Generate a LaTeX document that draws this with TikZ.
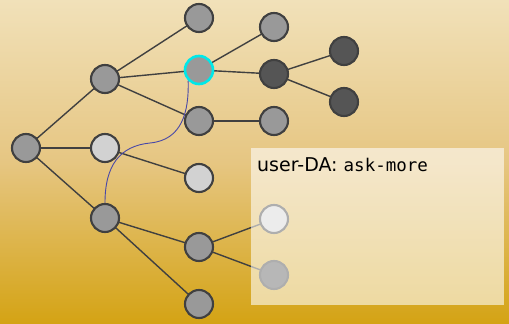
\documentclass[tikz,border=0pt]{standalone}
\usepackage{fontspec}
\setmainfont{DejaVu Sans}
\newfontfamily\monof{DejaVu Sans Mono}
\definecolor{bgtop}{HTML}{F1E1B9}
\definecolor{bgmid}{HTML}{E6C682}
\definecolor{bgbot}{HTML}{D4A314}
\definecolor{edgec}{HTML}{404040}
\definecolor{midg}{HTML}{999999}
\definecolor{lightg}{HTML}{D2D2D2}
\definecolor{darkg}{HTML}{555555}
\definecolor{curvec}{HTML}{4848A8}
\definecolor{selc}{HTML}{00E8E8}
\begin{document}
\begin{tikzpicture}[x=1pt,y=-1pt,
  nd/.style={circle,draw=edgec,line width=2.1pt,minimum size=28pt,inner sep=0pt},
  mid/.style={nd,fill=midg},
  lite/.style={nd,fill=lightg},
  dark/.style={nd,fill=darkg},
  sel/.style={nd,fill=midg,draw=selc,line width=2.6pt},
  edge/.style={draw=edgec,line width=1.4pt}]
\useasboundingbox (0,0) rectangle (509,324);
\shade[top color=bgtop,bottom color=bgbot,middle color=bgmid] (0,0) rectangle (509,324);
% node positions
\coordinate (r) at (26,148);
\coordinate (a1) at (105,79);
\coordinate (a2) at (105,148);
\coordinate (a3) at (105,218);
\coordinate (b1) at (199,18);
\coordinate (b2) at (199,70);
\coordinate (b3) at (199,121);
\coordinate (b4) at (199,178);
\coordinate (b5) at (199,247);
\coordinate (b6) at (199,304);
\coordinate (c1) at (274,27);
\coordinate (c2) at (274,74);
\coordinate (c3) at (274,121);
\coordinate (d1) at (344,51);
\coordinate (d2) at (344,102);
\coordinate (p1) at (274,219);
\coordinate (p2) at (274,275);
% edges
\foreach \u/\v in {r/a1,r/a2,r/a3,a1/b1,a1/b2,a1/b3,a2/b4,a3/b5,a3/b6,b2/c1,b2/c2,b3/c3,c2/d1,c2/d2,b5/p1,b5/p2}
  \draw[edge] (\u) -- (\v);
% nodes
\node[mid] (nr) at (r) {};
\node[mid] (na1) at (a1) {};
\node[lite] (na2) at (a2) {};
\node[mid] (na3) at (a3) {};
\node[mid] (nb1) at (b1) {};
\node[sel] (nb2) at (b2) {};
\node[mid] (nb3) at (b3) {};
\node[lite] (nb4) at (b4) {};
\node[mid] (nb5) at (b5) {};
\node[mid] (nb6) at (b6) {};
\node[mid] (nc1) at (c1) {};
\node[dark] (nc2) at (c2) {};
\node[mid] (nc3) at (c3) {};
\node[dark] (nd1) at (d1) {};
\node[dark] (nd2) at (d2) {};
\node[lite] (np1) at (p1) {};
\node[dark] (np2) at (p2) {};
% blue curve
\draw[curvec,line width=0.9pt] (na3.north) .. controls (105,165) and (120,146) .. (150,143) .. controls (182,140) and (189,112) .. (nb2.south west);
% panel
\node[fill=white,fill opacity=0.58,minimum width=253pt,minimum height=157pt,inner sep=0pt,anchor=north west] (panel) at (251,148) {};
\node[anchor=base west,inner sep=0pt] (lbl) at (257,171) {\fontsize{19}{22}\selectfont user-DA: {\monof\fontsize{17.5}{22}\selectfont ask-more}};
\end{tikzpicture}
\end{document}
